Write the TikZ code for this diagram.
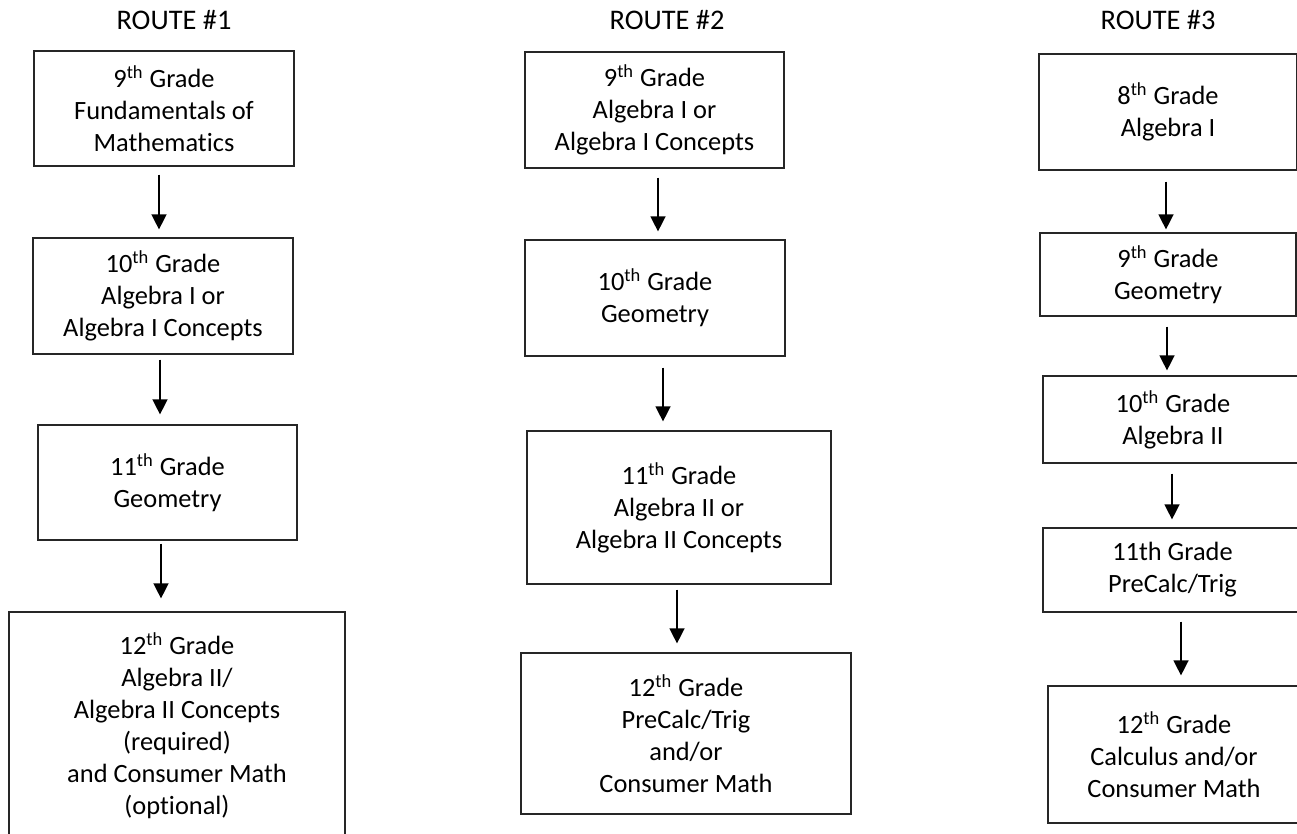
\documentclass[tikz,border=0pt]{standalone}
\usepackage{fontspec}
\setmainfont{Carlito}[Ligatures=NoCommon]
\usepackage{tikz}
\usetikzlibrary{arrows.meta, calc}
\tikzset{x=0.5pt, y=-0.5pt,
	course/.style={draw=black!85, line width=0.6pt, rectangle, inner sep=0pt, align=center, font=\fontsize{13.2}{16}\selectfont},
	route/.style={font=\fontsize{14.2}{17}\selectfont},
	flow/.style={line width=0.7pt, -{Triangle[length=7.5pt, width=7.5pt]}}}

\begin{document}
\begin{tikzpicture}
	\useasboundingbox (0,0) rectangle (1297,834);
	% headings
	\node[route] at (174,20) (t1) {ROUTE \#1};
	\node[route] at (667,20) (t2) {ROUTE \#2};
	\node[route] at (1158,20) (t3) {ROUTE \#3};
	% route 1
	\node[course, minimum width=130pt, minimum height=57.5pt] at (164,108.5) (r1a) {9\textsuperscript{th} Grade\\Fundamentals of\\Mathematics};
	\node[course, minimum width=130pt, minimum height=58pt] at (163,296) (r1b) {10\textsuperscript{th} Grade\\Algebra I or\\Algebra I Concepts};
	\node[course, minimum width=129.5pt, minimum height=57.5pt] at (167.5,482.5) (r1c) {11\textsuperscript{th} Grade\\Geometry};
	\node[course, minimum width=168pt, minimum height=114pt] at (177,726) (r1d) {12\textsuperscript{th} Grade\\Algebra II/\\Algebra II Concepts\\(required)\\and Consumer Math\\(optional)};
	% route 2
	\node[course, minimum width=129.5pt, minimum height=58pt] at (654.5,110) (r2a) {9\textsuperscript{th} Grade\\Algebra I or\\Algebra I Concepts};
	\node[course, minimum width=130pt, minimum height=58pt] at (655,298) (r2b) {10\textsuperscript{th} Grade\\Geometry};
	\node[course, minimum width=152pt, minimum height=76.5pt] at (679,507.5) (r2c) {11\textsuperscript{th} Grade\\Algebra II or\\Algebra II Concepts};
	\node[course, minimum width=165pt, minimum height=80.5pt] at (686,733.5) (r2d) {12\textsuperscript{th} Grade\\PreCalc/Trig\\and/or\\Consumer Math};
	% route 3
	\node[course, minimum width=129pt, minimum height=58pt] at (1168,112) (r3a) {8\textsuperscript{th} Grade\\Algebra I};
	\node[course, minimum width=128pt, minimum height=41.5pt] at (1168,274.5) (r3b) {9\textsuperscript{th} Grade\\Geometry};
	\node[course, minimum width=130pt, minimum height=43.5pt] at (1173,419.5) (r3c) {10\textsuperscript{th} Grade\\Algebra II};
	\node[course, minimum width=129.5pt, minimum height=42pt] at (1172.5,570) (r3d) {11th Grade\\PreCalc/Trig};
	\node[course, minimum width=126pt, minimum height=68.5pt] at (1174,754.5) (r3e) {12\textsuperscript{th} Grade\\Calculus and/or\\Consumer Math};
	% arrows
	\draw[flow] ($(r1a.south)+(-5,8)$) -- ($(r1b.north)+(-4,-8)$);
	\draw[flow] ($(r1b.south)+(-3,5)$) -- ($(r1c.north)+(-7.5,-10)$);
	\draw[flow] ($(r1c.south)+(-6.5,3)$) -- ($(r1d.north)+(-16,-13)$);
	\draw[flow] ($(r2a.south)+(3.5,9)$) -- ($(r2b.north)+(3,-8)$);
	\draw[flow] ($(r2b.south)+(8,11)$) -- ($(r2c.north)+(-16,-9)$);
	\draw[flow] ($(r2c.south)+(-2,5)$) -- ($(r2d.north)+(-9,-9)$);
	\draw[flow] ($(r3a.south)+(-2,11)$) -- ($(r3b.north)+(-2,-3)$);
	\draw[flow] ($(r3b.south)+(-1,10)$) -- ($(r3c.north)+(-6,-5)$);
	\draw[flow] ($(r3c.south)+(-1,10)$) -- ($(r3d.north)+(-0.5,-8)$);
	\draw[flow] ($(r3d.south)+(8.5,9)$) -- ($(r3e.north)+(7,-10)$);
\end{tikzpicture}
\end{document}
